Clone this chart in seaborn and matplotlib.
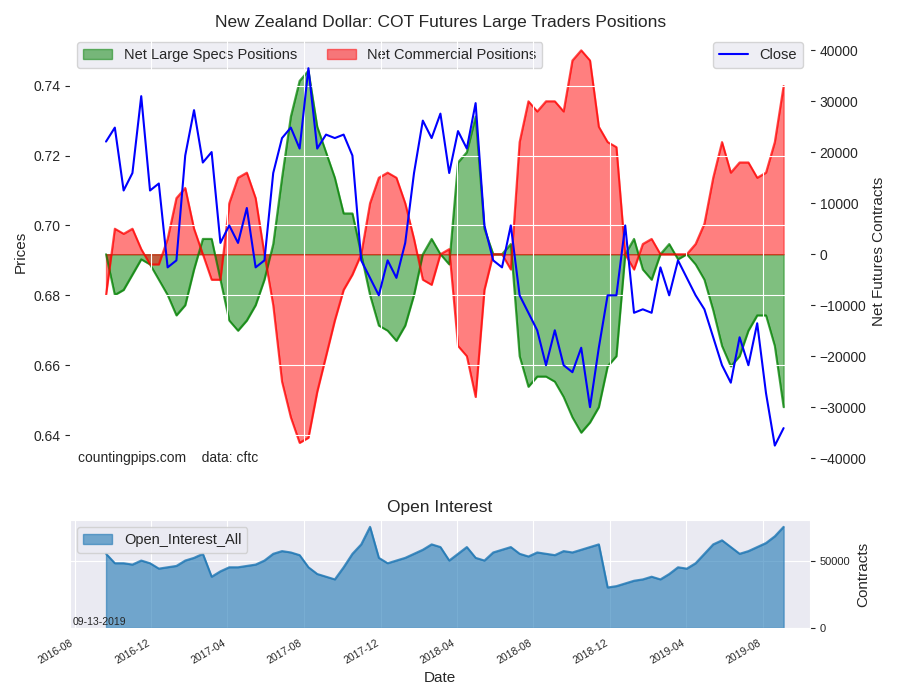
import numpy as np
import pandas as pd
import matplotlib
matplotlib.use('Agg')
import matplotlib.pyplot as plt
import matplotlib.dates as mdates
import seaborn as sns

# biweekly readings, 2016-09-20 .. 2019-09-10
dates = pd.date_range('2016-09-20', periods=78, freq='14D')

close = [0.724, 0.728, 0.710, 0.715, 0.737, 0.710, 0.712, 0.688, 0.690, 0.720,
         0.733, 0.718, 0.721, 0.695, 0.700, 0.695, 0.705, 0.688, 0.690, 0.715,
         0.725, 0.728, 0.722, 0.745, 0.722, 0.726, 0.725, 0.726, 0.720, 0.690,
         0.685, 0.680, 0.690, 0.685, 0.695, 0.715, 0.730, 0.725, 0.732, 0.715,
         0.727, 0.722, 0.735, 0.700, 0.690, 0.688, 0.700, 0.680, 0.675, 0.670,
         0.660, 0.670, 0.660, 0.658, 0.665, 0.648, 0.665, 0.680, 0.680, 0.700,
         0.675, 0.676, 0.675, 0.688, 0.680, 0.690, 0.685, 0.680, 0.676, 0.668,
         0.660, 0.655, 0.668, 0.660, 0.672, 0.652, 0.637, 0.642]

specs = [0, -8, -7, -4, -1, -2, -5, -8, -12, -10,
         -3, 3, 3, -5, -13, -15, -13, -10, -5, 2,
         15, 27, 34, 36, 25, 20, 15, 8, 8, 0,
         -8, -14, -15, -17, -14, -8, 0, 3, 0, -2,
         18, 20, 27, 5, 0, 0, 2, -20, -26, -24,
         -24, -25, -28, -32, -35, -33, -30, -22, -20, 0,
         3, -3, -5, 0, 2, -1, 0, -2, -5, -11,
         -18, -22, -20, -15, -12, -12, -18, -30]

comm = [-8, 5, 4, 5, 1, -2, -2, 3, 11, 13,
        5, 0, -5, -5, 10, 15, 16, 11, 0, -10,
        -25, -32, -37, -36, -27, -20, -13, -7, -4, 0,
        10, 15, 16, 15, 10, 3, -5, -6, 0, 1,
        -18, -20, -28, -7, 0, 0, -3, 22, 30, 28,
        30, 30, 28, 38, 40, 38, 25, 22, 21, 0,
        -3, 2, 3, 0, 0, 0, 0, 2, 6, 15,
        22, 16, 18, 18, 15, 16, 22, 33]

open_interest = [55, 48, 48, 47, 50, 48, 44, 45, 46, 50,
                 52, 55, 38, 42, 45, 45, 46, 47, 50, 55,
                 57, 56, 54, 45, 40, 38, 36, 45, 55, 62,
                 75, 52, 48, 50, 52, 55, 58, 62, 60, 50,
                 55, 60, 52, 50, 56, 58, 60, 55, 53, 56,
                 55, 54, 57, 56, 58, 60, 62, 30, 31, 33,
                 35, 36, 38, 36, 40, 45, 44, 48, 55, 62,
                 65, 60, 55, 57, 60, 63, 68, 75]

df = pd.DataFrame({'Date': dates, 'Close': close,
                   'Specs': np.array(specs) * 1000,
                   'Comm': np.array(comm) * 1000,
                   'OI': np.array(open_interest) * 1000})

sns.set_style('darkgrid')
plt.rcParams['font.family'] = ['Liberation Sans', 'DejaVu Sans']
fig = plt.figure(figsize=(9, 7), dpi=100)
ax = fig.add_axes([0.078, 0.331, 0.822, 0.619])
ax2 = ax.twinx()
axb = fig.add_axes([0.078, 0.103, 0.822, 0.154], sharex=ax)

# net positions on the right axis
ax2.fill_between(df['Date'], df['Specs'], 0, color='green', alpha=0.5,
                 label='Net Large Specs Positions')
ax2.plot(df['Date'], df['Specs'], color='green', alpha=0.7)
ax2.fill_between(df['Date'], df['Comm'], 0, color='red', alpha=0.5,
                 label='Net Commercial Positions')
ax2.plot(df['Date'], df['Comm'], color='red', alpha=0.7)
ax2.set_ylim(-42000, 43000)
ax2.set_ylabel('Net Futures Contracts', fontsize=11)
ax2.grid(False)
ax2.tick_params(axis='y', labelsize=10)
ax2.legend(loc='upper left', ncol=2, fontsize=10.5)

sns.lineplot(data=df, x='Date', y='Close', ax=ax, color='blue', label='Close')
ax.set_ylim(0.6305, 0.7545)
ax.set_ylabel('Prices', fontsize=11)
ax.set_xlabel('')
ax.tick_params(axis='y', labelsize=10)
ax.set_zorder(ax2.get_zorder() + 1)
ax.patch.set_visible(False)
ax.legend(loc='upper right', fontsize=10.5)
ax.set_title('New Zealand Dollar: COT Futures Large Traders Positions', fontsize=12.5)
ax.text(0.01, 0.015, 'countingpips.com    data: cftc', transform=ax.transAxes, fontsize=10)
plt.setp(ax.get_xticklabels(), visible=False)

axb.fill_between(df['Date'], df['OI'], 0, color='#1f77b4', alpha=0.6,
                 label='Open_Interest_All')
axb.plot(df['Date'], df['OI'], color='#1f77b4', alpha=0.8)
axb.set_ylim(0, 80000)
axb.yaxis.tick_right()
axb.yaxis.set_label_position('right')
axb.set_yticks([0, 50000])
axb.tick_params(axis='y', labelsize=8)
axb.set_ylabel('Contracts', fontsize=11)
axb.set_xlabel('Date', fontsize=11)
axb.set_title('Open Interest', fontsize=12.5)
axb.legend(loc='upper left', fontsize=10.5)
axb.text(0.003, 0.03, '09-13-2019', transform=axb.transAxes, fontsize=7.5)
axb.xaxis.set_major_locator(mdates.MonthLocator(bymonth=[4, 8, 12]))
axb.xaxis.set_major_formatter(mdates.DateFormatter('%Y-%m'))
axb.set_xlim(pd.Timestamp('2016-07-25'), pd.Timestamp('2019-10-15'))
plt.setp(axb.get_xticklabels(), rotation=30, ha='right', fontsize=7.5)

fig.savefig('out.png')
